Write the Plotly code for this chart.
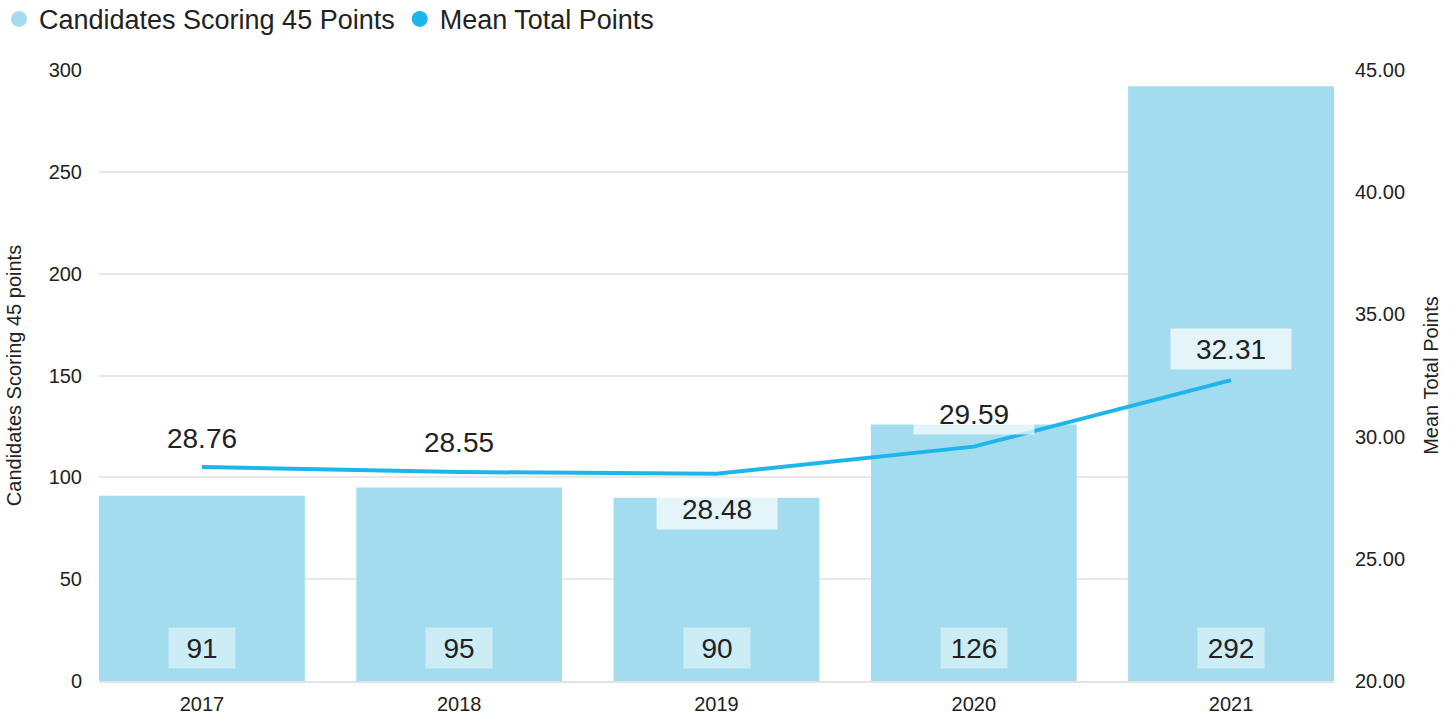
import plotly.graph_objects as go

years = ["2017", "2018", "2019", "2020", "2021"]
candidates_45 = [91, 95, 90, 126, 292]
mean_points = [28.76, 28.55, 28.48, 29.59, 32.31]

bar_color = "#a3dcee"
line_color = "#1db6ea"
text_color = "#222222"
font_family = "Liberation Sans, Arial, sans-serif"

# vertical pixel offset of each mean-point label relative to its point
line_label_shift = [29, 30, -35, 33, 31]

fig = go.Figure()
fig.add_trace(go.Bar(x=years, y=candidates_45, marker=dict(color=bar_color, line=dict(width=0)),
                     showlegend=False, name="Candidates Scoring 45 Points", yaxis="y"))
fig.add_trace(go.Scatter(x=years, y=mean_points, mode="lines", line=dict(color=line_color, width=4),
                         showlegend=False, name="Mean Total Points", yaxis="y2"))
# legend entries with circular symbols
fig.add_trace(go.Scatter(x=[None], y=[None], mode="markers", name="Candidates Scoring 45 Points",
                         marker=dict(symbol="circle", size=18, color=bar_color)))
fig.add_trace(go.Scatter(x=[None], y=[None], mode="markers", name="Mean Total Points",
                         marker=dict(symbol="circle", size=18, color=line_color)))

annotations = []
for i, v in enumerate(candidates_45):
    annotations.append(dict(x=i, y=0, xref="x", yref="y", text=str(v), showarrow=False,
                            yshift=33, font=dict(size=28, color=text_color, family=font_family),
                            bgcolor="rgba(255,255,255,0.45)", width=64, height=38))
for i, (v, s) in enumerate(zip(mean_points, line_label_shift)):
    annotations.append(dict(x=i, y=v, xref="x", yref="y2", text=f"{v:.2f}", showarrow=False,
                            yshift=s, font=dict(size=28, color=text_color, family=font_family),
                            bgcolor="rgba(255,255,255,0.7)", width=118, height=38))

fig.update_layout(
    width=1456, height=717,
    margin=dict(l=99, r=122, t=70, b=36, autoexpand=False),
    paper_bgcolor="white", plot_bgcolor="white",
    font=dict(family=font_family, color=text_color, size=20),
    bargap=0.2,
    showlegend=True,
    legend=dict(orientation="h", x=-0.081, xref="paper", y=1.123, yref="paper",
                xanchor="left", yanchor="top", font=dict(size=27, color=text_color),
                itemsizing="trace", tracegroupgap=0, bgcolor="rgba(0,0,0,0)"),
    annotations=annotations,
    xaxis=dict(type="category", range=[-0.4, 4.4], showgrid=False, showline=True,
               linecolor="#e3e3e3", linewidth=2, ticks="", ticklabelstandoff=4,
               tickfont=dict(size=20)),
    yaxis=dict(range=[0, 300], dtick=50, showgrid=True, gridcolor="#e8e8e8", gridwidth=2,
               zeroline=False, ticks="", ticklabelstandoff=16, tickfont=dict(size=20),
               title=dict(text="Candidates Scoring 45 points", font=dict(size=20), standoff=21),
               automargin=False),
    yaxis2=dict(range=[20, 45], dtick=5, tickformat=".2f", overlaying="y", side="right",
                showgrid=False, zeroline=False, ticks="", ticklabelstandoff=20,
                tickfont=dict(size=20),
                title=dict(text="Mean Total Points", font=dict(size=20), standoff=19),
                automargin=False),
)

fig.write_html("out.html", config={"displayModeBar": False},
               post_script="document.body.style.margin='0';")
